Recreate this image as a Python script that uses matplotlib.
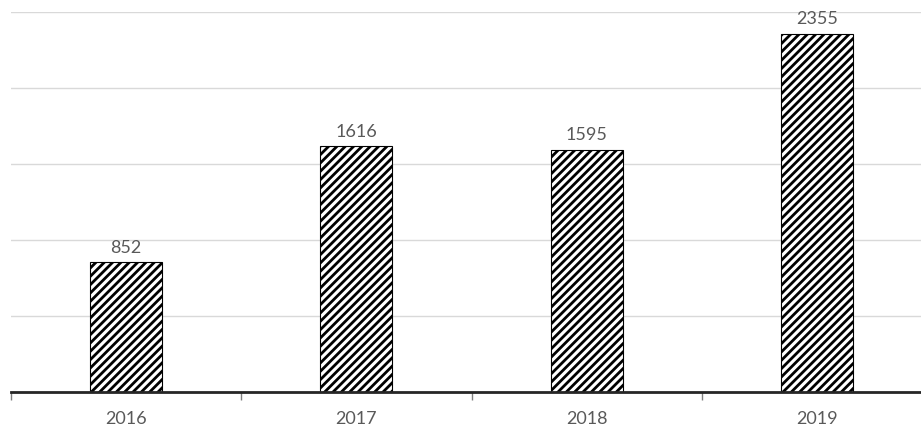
import matplotlib
matplotlib.use("Agg")
import matplotlib.pyplot as plt
import numpy as np

categories = ["2016", "2017", "2018", "2019"]
values = [852, 1616, 1595, 2355]
yticks = [0, 500, 1000, 1500, 2000, 2500]

plt.rcParams['hatch.linewidth'] = 2.0
plt.rcParams['font.family'] = ['Lato', 'DejaVu Sans']

W, H = 921, 427
fig = plt.figure(figsize=(W/100, H/100), dpi=100)
left = 10.5 / W
width = 4 * 230.5 / W
bottom = (H - 393) / H
top = (H - 13) / H
ax = fig.add_axes([left, bottom, width, top - bottom])

x = np.arange(len(categories))
bars = ax.bar(x, values, width=0.312, color='white', edgecolor='black',
              linewidth=0.8, hatch='////', zorder=3)

for xi, v in zip(x, values):
    ax.text(xi, v + 50, str(v), ha='center', va='bottom', fontsize=13, color='#595959')

ax.set_xlim(-0.5, 3.5)
ax.set_ylim(0, 2500)
ax.set_yticks(yticks)
ax.yaxis.grid(True, color='#d9d9d9', linewidth=1.0, zorder=0)
ax.tick_params(axis='y', left=False, labelleft=False)

ax.set_xticks(x)
ax.set_xticklabels(categories, fontsize=13, color='#595959')
ax.tick_params(axis='x', which='major', length=0, pad=13)
ax.set_xticks(np.arange(-0.5, 4.0, 1.0), minor=True)
ax.tick_params(axis='x', which='minor', length=6, width=1, color='#808080', direction='out')

for s in ['left', 'right', 'top']:
    ax.spines[s].set_visible(False)
ax.spines['bottom'].set_color('#262626')
ax.spines['bottom'].set_linewidth(2)
ax.spines['bottom'].set_zorder(4)

fig.savefig("out.png", dpi=100)
